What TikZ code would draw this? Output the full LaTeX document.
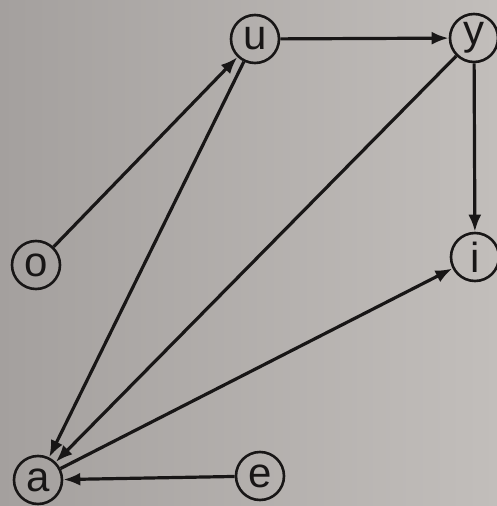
\documentclass[tikz,border=0pt]{standalone}
\usepackage{fontspec}
\setmainfont{Liberation Sans}
\usetikzlibrary{arrows.meta}
\definecolor{bgL}{RGB}{164,160,158}
\definecolor{bgR}{RGB}{194,190,187}
\definecolor{ink}{RGB}{24,22,22}
\tikzset{
  vtx/.style={circle,draw=ink,line width=2.6pt,minimum size=48pt,inner sep=0pt,
    text=ink,font=\fontsize{42}{42}\selectfont},
  edge/.style={draw=ink,line width=3.2pt,-{Latex[length=17pt,width=13pt]}}
}
\begin{document}
\begin{tikzpicture}[x=1pt,y=-1pt]
\useasboundingbox (0,0) rectangle (497,506);
\shade[left color=bgL,right color=bgR] (0,0) rectangle (497,506);
\node[vtx] (u) at (255,39) {u};
\node[vtx] (y) at (474,38) {y};
\node[vtx] (o) at (36,265) {o};
\node[vtx] (i) at (475,257) {i};
\node[vtx] (a) at (38,480) {a};
\node[vtx] (e) at (260,476) {e};
\draw[edge] (o) -- (u);
\draw[edge] (u) -- (y);
\draw[edge] (y) -- (i);
\draw[edge] (u) -- (a);
\draw[edge] (y) -- (a);
\draw[edge] (a) -- (i);
\draw[edge] (e) -- (a);
\end{tikzpicture}
\end{document}
